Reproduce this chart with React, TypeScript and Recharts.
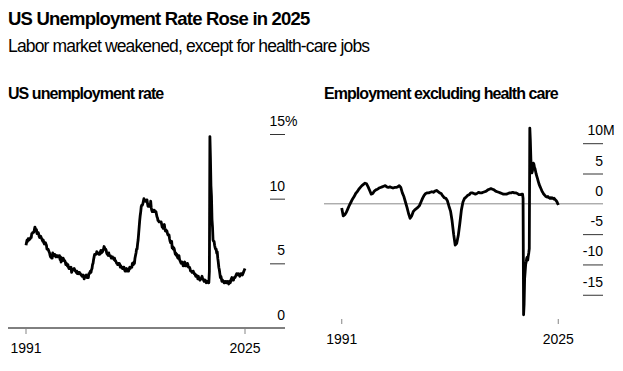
import React from 'react';
import { LineChart, Line, XAxis, YAxis, ReferenceLine } from 'recharts';

const FONT = '"Liberation Sans", Arial, Helvetica, sans-serif';

// US unemployment rate, %, monthly from Jan 1991 to Nov 2025 (Oct 2025 not published)
const rateStartYear = 1991;
const unemploymentRate: (number | null)[] = [
  6.4, 6.6, 6.8, 6.7, 6.9, 6.9, 6.8, 6.9, 6.9, 7.0, 7.0, 7.3,
  7.3, 7.4, 7.4, 7.4, 7.6, 7.8, 7.7, 7.6, 7.6, 7.3, 7.4, 7.4,
  7.3, 7.1, 7.0, 7.1, 7.1, 7.0, 6.9, 6.8, 6.7, 6.8, 6.6, 6.5,
  6.6, 6.6, 6.5, 6.4, 6.1, 6.1, 6.1, 6.0, 5.9, 5.8, 5.6, 5.5,
  5.6, 5.4, 5.4, 5.8, 5.6, 5.6, 5.7, 5.7, 5.6, 5.5, 5.6, 5.6,
  5.6, 5.5, 5.5, 5.6, 5.6, 5.3, 5.5, 5.1, 5.2, 5.2, 5.4, 5.4,
  5.3, 5.2, 5.2, 5.1, 4.9, 5.0, 4.9, 4.8, 4.9, 4.7, 4.6, 4.7,
  4.6, 4.6, 4.7, 4.3, 4.4, 4.5, 4.5, 4.5, 4.6, 4.5, 4.4, 4.4,
  4.3, 4.4, 4.2, 4.3, 4.2, 4.3, 4.3, 4.2, 4.2, 4.1, 4.1, 4.0,
  4.0, 4.1, 4.0, 3.8, 4.0, 4.0, 4.0, 4.1, 3.9, 3.9, 3.9, 3.9,
  4.2, 4.2, 4.3, 4.4, 4.3, 4.5, 4.6, 4.9, 5.0, 5.3, 5.5, 5.7,
  5.7, 5.7, 5.7, 5.9, 5.8, 5.8, 5.8, 5.7, 5.7, 5.7, 5.9, 6.0,
  5.8, 5.9, 5.9, 6.0, 6.1, 6.3, 6.2, 6.1, 6.1, 6.0, 5.8, 5.7,
  5.7, 5.6, 5.8, 5.6, 5.6, 5.6, 5.5, 5.4, 5.4, 5.5, 5.4, 5.4,
  5.3, 5.4, 5.2, 5.2, 5.1, 5.0, 5.0, 4.9, 5.0, 5.0, 5.0, 4.9,
  4.7, 4.8, 4.7, 4.7, 4.6, 4.6, 4.7, 4.7, 4.5, 4.4, 4.5, 4.4,
  4.6, 4.5, 4.4, 4.5, 4.4, 4.6, 4.7, 4.6, 4.7, 4.7, 4.7, 5.0,
  5.0, 4.9, 5.1, 5.0, 5.4, 5.6, 5.8, 6.1, 6.1, 6.5, 6.8, 7.3,
  7.8, 8.3, 8.7, 9.0, 9.4, 9.5, 9.5, 9.6, 9.8, 10.0, 9.9, 9.9,
  9.8, 9.8, 9.9, 9.9, 9.6, 9.4, 9.4, 9.5, 9.5, 9.4, 9.8, 9.3,
  9.1, 9.0, 9.0, 9.1, 9.0, 9.1, 9.0, 9.0, 9.0, 8.8, 8.6, 8.5,
  8.3, 8.3, 8.2, 8.2, 8.2, 8.2, 8.2, 8.0, 7.8, 7.8, 7.7, 7.9,
  8.0, 7.7, 7.5, 7.6, 7.5, 7.5, 7.3, 7.2, 7.2, 7.2, 6.9, 6.7,
  6.6, 6.7, 6.7, 6.2, 6.3, 6.1, 6.2, 6.1, 5.9, 5.7, 5.8, 5.6,
  5.7, 5.5, 5.4, 5.4, 5.6, 5.3, 5.2, 5.1, 5.0, 5.0, 5.1, 5.0,
  4.8, 4.9, 5.0, 5.1, 4.8, 4.9, 4.8, 4.9, 5.0, 4.9, 4.7, 4.7,
  4.7, 4.6, 4.4, 4.4, 4.4, 4.3, 4.3, 4.4, 4.3, 4.2, 4.2, 4.1,
  4.0, 4.1, 4.0, 4.0, 3.8, 4.0, 3.8, 3.8, 3.7, 3.8, 3.8, 3.9,
  4.0, 3.8, 3.8, 3.7, 3.6, 3.6, 3.7, 3.6, 3.5, 3.6, 3.6, 3.6,
  3.5, 3.5, 4.4, 14.8, 13.2, 11.0, 10.2, 8.4, 7.8, 6.8, 6.7, 6.7,
  6.4, 6.2, 6.1, 6.1, 5.8, 5.9, 5.4, 5.1, 4.7, 4.5, 4.2, 3.9,
  4.0, 3.8, 3.6, 3.7, 3.6, 3.6, 3.5, 3.6, 3.5, 3.6, 3.6, 3.5,
  3.5, 3.6, 3.5, 3.4, 3.6, 3.6, 3.5, 3.7, 3.8, 3.9, 3.7, 3.8,
  3.7, 3.9, 3.9, 3.9, 4.0, 4.1, 4.2, 4.2, 4.1, 4.1, 4.2, 4.1,
  4.0, 4.1, 4.2, 4.2, 4.2, 4.1, 4.2, 4.3, 4.4, null, 4.6,
];
const rateTicks = [0, 5, 10, 15];

// Year-over-year change in payrolls excluding health care, millions
const employmentMonths = [
  '1991-01', '1991-04', '1991-07', '1991-10', '1992-01', '1992-04', '1992-07', '1992-10',
  '1993-01', '1993-04', '1993-07', '1993-10', '1994-01', '1994-04', '1994-07', '1994-10',
  '1995-01', '1995-04', '1995-07', '1995-10', '1996-01', '1996-04', '1996-07', '1996-10',
  '1997-01', '1997-04', '1997-07', '1997-10', '1998-01', '1998-04', '1998-07', '1998-10',
  '1999-01', '1999-04', '1999-07', '1999-10', '2000-01', '2000-04', '2000-07', '2000-10',
  '2001-01', '2001-04', '2001-07', '2001-10', '2002-01', '2002-04', '2002-07', '2002-10',
  '2003-01', '2003-04', '2003-07', '2003-10', '2004-01', '2004-04', '2004-07', '2004-10',
  '2005-01', '2005-04', '2005-07', '2005-10', '2006-01', '2006-04', '2006-07', '2006-10',
  '2007-01', '2007-04', '2007-07', '2007-10', '2008-01', '2008-04', '2008-07', '2008-10',
  '2009-01', '2009-04', '2009-07', '2009-10', '2010-01', '2010-04', '2010-07', '2010-10',
  '2011-01', '2011-04', '2011-07', '2011-10', '2012-01', '2012-04', '2012-07', '2012-10',
  '2013-01', '2013-04', '2013-07', '2013-10', '2014-01', '2014-04', '2014-07', '2014-10',
  '2015-01', '2015-04', '2015-07', '2015-10', '2016-01', '2016-04', '2016-07', '2016-10',
  '2017-01', '2017-04', '2017-07', '2017-10', '2018-01', '2018-04', '2018-07', '2018-10',
  '2019-01', '2019-04', '2019-07', '2019-10',
  '2020-01', '2020-02', '2020-03', '2020-04', '2020-05', '2020-06', '2020-07', '2020-08',
  '2020-09', '2020-10', '2020-11', '2020-12', '2021-01', '2021-02', '2021-03', '2021-04',
  '2021-05', '2021-06', '2021-07', '2021-08', '2021-09', '2021-10', '2021-11', '2021-12',
  '2022-01', '2022-02', '2022-03', '2022-04', '2022-05', '2022-06', '2022-07', '2022-08',
  '2022-09', '2022-10', '2022-11', '2022-12', '2023-01', '2023-02', '2023-03', '2023-04',
  '2023-05', '2023-06', '2023-07', '2023-08', '2023-09', '2023-10', '2023-11', '2023-12',
  '2024-01', '2024-02', '2024-03', '2024-04', '2024-05', '2024-06', '2024-07', '2024-08',
  '2024-09', '2024-10', '2024-11', '2024-12', '2025-01', '2025-02', '2025-03', '2025-04',
  '2025-05', '2025-06', '2025-07', '2025-08', '2025-09', '2025-10', '2025-11',
];
const employmentChange = [
  -0.7, -2.0, -1.8, -1.4, -0.8, -0.2, 0.3, 0.8,
  1.2, 1.7, 2.0, 2.4, 2.7, 3.0, 3.2, 3.4,
  3.3, 2.8, 2.2, 1.6, 1.7, 2.1, 2.3, 2.4,
  2.6, 2.7, 2.8, 2.9, 3.0, 2.8, 2.7, 2.8,
  2.7, 2.6, 2.7, 2.7, 2.8, 3.0, 2.7, 1.8,
  1.2, 0.3, -0.6, -1.6, -2.4, -2.0, -1.3, -1.0,
  -0.8, -0.6, -0.3, 0.3, 0.9, 1.4, 1.7, 1.8,
  1.8, 1.9, 2.0, 1.9, 2.1, 2.2, 2.0, 1.8,
  1.7, 1.3, 1.0, 0.9, 0.5, -0.4, -1.2, -2.8,
  -5.0, -6.8, -6.5, -5.2, -3.2, -1.0, 0.3, 0.9,
  1.1, 1.4, 1.5, 1.8, 1.8, 1.7, 1.6, 1.7,
  1.9, 1.8, 1.8, 1.9, 2.0, 2.1, 2.3, 2.4,
  2.5, 2.4, 2.3, 2.1, 2.0, 1.9, 1.8, 1.7,
  1.6, 1.6, 1.6, 1.7, 1.8, 1.8, 1.9, 1.8,
  1.8, 1.7, 1.5, 1.5,
  1.6, 1.6, 0.9, -18.3, -16.5, -12.3, -11.2, -10.0,
  -9.6, -9.0, -8.8, -9.3, -8.6, -8.1, -7.4, 12.5,
  10.5, 7.5, 5.5, 5.1, 5.4, 6.2, 6.7, 6.5,
  6.0, 5.8, 5.4, 5.0, 4.7, 4.4, 4.1, 3.8,
  3.5, 3.2, 3.0, 2.8, 2.6, 2.4, 2.2, 2.0,
  1.9, 1.7, 1.6, 1.5, 1.4, 1.3, 1.2, 1.2,
  1.1, 1.1, 1.2, 1.1, 1.0, 1.0, 0.9, 1.0,
  1.0, 0.9, 1.0, 0.9, 0.9, 0.8, 0.9, 0.8,
  0.7, 0.6, 0.5, 0.4, 0.2, 0.0, -0.2,
];
const employmentTicks = [-15, -10, -5, 0, 5, 10];

const toYear = (s: string) => Number(s.slice(0, 4)) + (Number(s.slice(5, 7)) - 1) / 12;

const rateData = unemploymentRate.map((v, i) => ({ t: rateStartYear + i / 12, v }));
const employmentData = employmentMonths.map((m, i) => ({ t: toYear(m), v: employmentChange[i] }));

const rateEnds = [rateData[0].t, rateData[rateData.length - 1].t];
const employmentEnds = [employmentData[0].t, employmentData[employmentData.length - 1].t];

const ValueTick = (props: any) => {
  const { x, y, payload, len, suffix, top } = props;
  const v = payload.value;
  return (
    <g>
      {v !== 0 && <line x1={x - len} x2={x} y1={y + 0.5} y2={y + 0.5} stroke="#333" strokeWidth={1} />}
      <text x={x} y={y - 8} textAnchor="end" fontSize={14} fontFamily={FONT} fill="#000">
        {v}
      </text>
      {v === top && (
        <text x={x} y={y - 8} textAnchor="start" fontSize={14} fontFamily={FONT} fill="#000">
          {suffix}
        </text>
      )}
    </g>
  );
};

const YearTick = (props: any) => {
  const { x, y, payload, gap } = props;
  return (
    <g>
      <line x1={x} x2={x} y1={y + gap} y2={y + gap + 5} stroke="#999" strokeWidth={1.2} />
      <text x={x} y={y + 25} textAnchor="middle" fontSize={14} fontFamily={FONT} fill="#000">
        {Math.floor(payload.value)}
      </text>
    </g>
  );
};

const textBase: React.CSSProperties = {
  position: 'absolute',
  fontFamily: FONT,
  color: '#000',
  lineHeight: 1,
  whiteSpace: 'nowrap',
};

export default function App() {
  return (
    <div style={{ position: 'relative', width: 607, height: 355 }}>
      <div style={{ ...textBase, left: 0, top: 2, fontSize: 18.5, fontWeight: 700, letterSpacing: -0.8 }}>
        US Unemployment Rate Rose in 2025
      </div>
      <div style={{ ...textBase, left: 0, top: 30, fontSize: 17.5, letterSpacing: -0.85 }}>
        Labor market weakened, except for health-care jobs
      </div>
      <div style={{ ...textBase, left: 0, top: 77.5, fontSize: 16, fontWeight: 700, letterSpacing: -0.95 }}>
        US unemployment rate
      </div>
      <div style={{ ...textBase, left: 316, top: 77.5, fontSize: 16, fontWeight: 700, letterSpacing: -0.95 }}>
        Employment excluding health care
      </div>

      <div style={{ position: 'absolute', left: 0, top: 100 }}>
        <LineChart width={307} height={250} data={rateData} margin={{ top: 26, right: 0, bottom: 0, left: 0 }}>
          <XAxis
            dataKey="t"
            type="number"
            domain={[1988.137, 2032.195]}
            ticks={rateEnds}
            interval={0}
            height={30}
            axisLine={{ stroke: '#000', strokeWidth: 1 }}
            tickLine={false}
            tickSize={0}
            tickMargin={0}
            tick={(p: any) => <YearTick {...p} gap={1} />}
          />
          <YAxis
            orientation="right"
            width={30}
            domain={[0, 15]}
            ticks={rateTicks}
            interval={0}
            axisLine={false}
            tickLine={false}
            tickSize={0}
            tickMargin={0}
            tick={(p: any) => <ValueTick {...p} len={15} suffix="%" top={15} />}
          />
          <Line
            type="linear"
            dataKey="v"
            stroke="#000"
            strokeWidth={2.8}
            strokeLinejoin="round"
            dot={false}
            connectNulls
            isAnimationActive={false}
          />
        </LineChart>
      </div>

      <div style={{ position: 'absolute', left: 316, top: 100 }}>
        <LineChart width={294} height={250} data={employmentData} margin={{ top: 17, right: 0, bottom: 9, left: 0 }}>
          <XAxis
            dataKey="t"
            type="number"
            domain={[1988.153, 2033.02]}
            ticks={employmentEnds}
            interval={0}
            height={30}
            axisLine={false}
            tickLine={false}
            tickSize={0}
            tickMargin={0}
            tick={(p: any) => <YearTick {...p} gap={0} />}
          />
          <YAxis
            orientation="right"
            width={15}
            domain={[-19, 13]}
            ticks={employmentTicks}
            interval={0}
            axisLine={false}
            tickLine={false}
            tickSize={0}
            tickMargin={0}
            tick={(p: any) => <ValueTick {...p} len={20} suffix="M" top={10} />}
          />
          <ReferenceLine y={0} stroke="#888" strokeWidth={1} />
          <Line
            type="linear"
            dataKey="v"
            stroke="#000"
            strokeWidth={2.8}
            strokeLinejoin="round"
            dot={false}
            isAnimationActive={false}
          />
        </LineChart>
      </div>
    </div>
  );
}
